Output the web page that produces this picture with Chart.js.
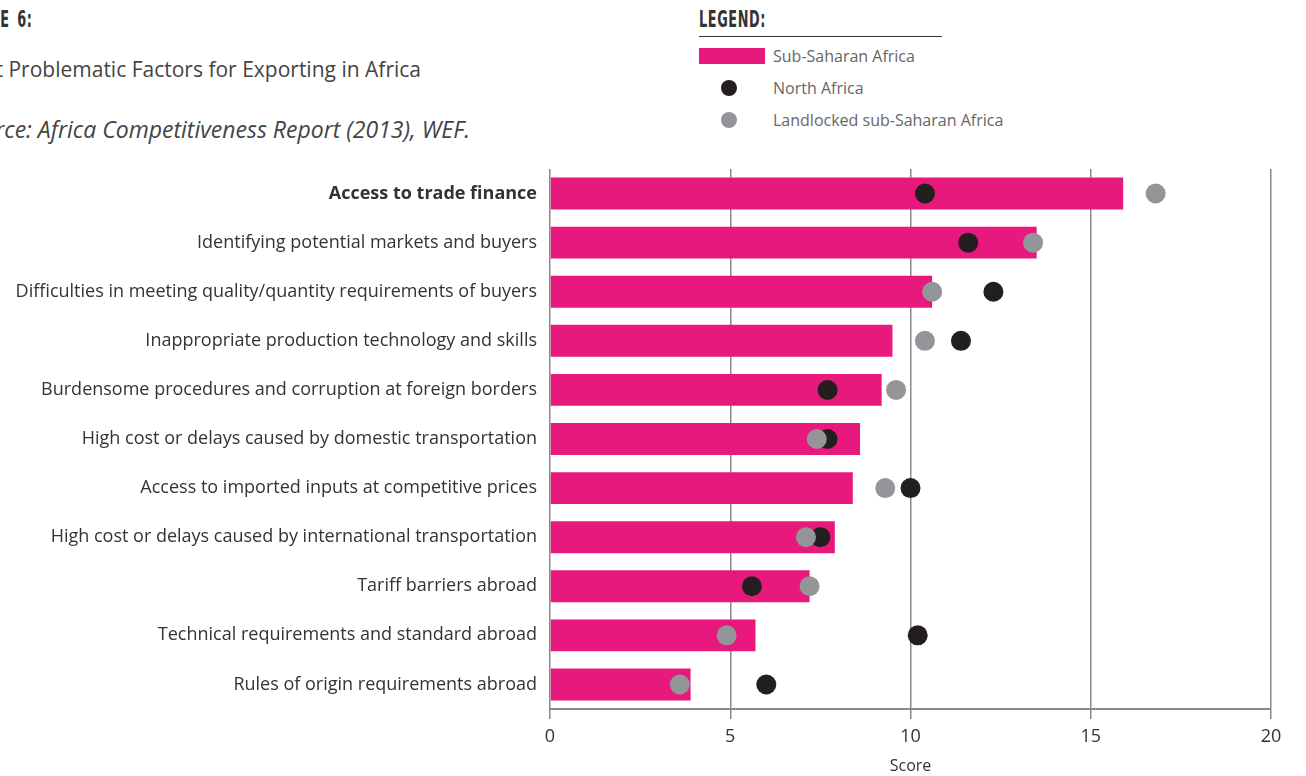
<!DOCTYPE html>
<html>
<head>
<meta charset="utf-8">
<script src="https://cdn.jsdelivr.net/npm/chart.js@4.4.1/dist/chart.umd.min.js"></script>
<style>
  html, body { margin: 0; padding: 0; background: #fff; }
  body { width: 1306px; height: 776px; position: relative; overflow: hidden; font-family: "Open Sans", sans-serif; color: #444; }
  .cut { position: absolute; white-space: nowrap; text-align: right; }
  .head { font-family: "DejaVu Sans Condensed", "Liberation Sans Narrow", sans-serif; font-weight: bold; font-size: 23px; letter-spacing: 1px; color: #333; line-height: 1; }
  #fig { right: 1273px; top: 8px; word-spacing: 4px; transform: scaleX(0.62); transform-origin: right center; }
  #title { right: 885px; top: 55px; font-size: 21px; color: #444; }
  #source { right: 836px; top: 113px; font-size: 23px; font-style: italic; color: #444; }
  #legend-head { position: absolute; left: 699px; top: 8px; }
  #legend-head span { display: inline-block; transform: scaleX(0.62); transform-origin: left center; }
  #legend-rule { position: absolute; left: 699px; top: 36px; width: 243px; height: 0; border-top: 1.5px solid #333; }
  .li { position: absolute; left: 773px; font-size: 16px; color: #666; }
  .sw { position: absolute; }
  canvas { position: absolute; left: 0; top: 0; }
</style>
</head>
<body>
<div class="cut head" id="fig">FIGURE 6:</div>
<div class="cut" id="title">Most Problematic Factors for Exporting in Africa</div>
<div class="cut" id="source">Source: Africa Competitiveness Report (2013), WEF.</div>

<div class="head" id="legend-head"><span>LEGEND:</span></div>
<div id="legend-rule"></div>
<div class="sw" style="left:699px;top:48px;width:66px;height:16px;background:#e8197c"></div>
<div class="li" style="top:45px">Sub-Saharan Africa</div>
<div class="sw" style="left:721px;top:80px;width:16px;height:16px;border-radius:50%;background:#231f20"></div>
<div class="li" style="top:77px">North Africa</div>
<div class="sw" style="left:721px;top:112px;width:16px;height:16px;border-radius:50%;background:#939598"></div>
<div class="li" style="top:109px">Landlocked sub-Saharan Africa</div>

<canvas id="chart" width="1306" height="776"></canvas>

<script>
var factors = [
    "Access to trade finance",
    "Identifying potential markets and buyers",
    "Difficulties in meeting quality/quantity requirements of buyers",
    "Inappropriate production technology and skills",
    "Burdensome procedures and corruption at foreign borders",
    "High cost or delays caused by domestic transportation",
    "Access to imported inputs at competitive prices",
    "High cost or delays caused by international transportation",
    "Tariff barriers abroad",
    "Technical requirements and standard abroad",
    "Rules of origin requirements abroad"
];
var subSaharan = [15.9, 13.5, 10.6, 9.5, 9.2, 8.6, 8.4, 7.9, 7.2, 5.7, 3.9];
var northAfrica = [10.4, 11.6, 12.3, 11.4, 7.7, 7.7, 10.0, 7.5, 5.6, 10.2, 6.0];
var landlocked = [16.8, 13.4, 10.6, 10.4, 9.6, 7.4, 9.3, 7.1, 7.2, 4.9, 3.6];
var scoreTicks = [0, 5, 10, 15, 20];

var ctx = document.getElementById("chart").getContext("2d");
var chart = new Chart(ctx, {
    data: {
        labels: factors,
        datasets: [{
            type: 'line',
            label: "Landlocked sub-Saharan Africa",
            data: landlocked,
            showLine: false,
            pointRadius: 10,
            pointHoverRadius: 10,
            pointBorderWidth: 0,
            pointBackgroundColor: '#939598',
            order: 0
        }, {
            type: 'line',
            label: "North Africa",
            data: northAfrica,
            showLine: false,
            pointRadius: 10,
            pointHoverRadius: 10,
            pointBorderWidth: 0,
            pointBackgroundColor: '#231f20',
            order: 1
        }, {
            type: 'bar',
            label: "Sub-Saharan Africa",
            data: subSaharan,
            backgroundColor: '#e8197c',
            categoryPercentage: 1,
            barPercentage: 0.65,
            order: 2
        }]
    },
    options: {
        indexAxis: 'y',
        responsive: false,
        animation: false,
        layout: { padding: { top: 169, right: 35, left: 0, bottom: 0 } },
        plugins: { legend: { display: false }, tooltip: { enabled: false } },
        scales: {
            x: {
                min: 0,
                max: 20,
                afterBuildTicks: function (scale) {
                    scale.ticks = scoreTicks.map(function (v) { return { value: v }; });
                },
                afterFit: function (scale) { scale.height = 67; },
                grid: { color: '#8a8a8a', lineWidth: 1.5, tickLength: 10 },
                border: { color: '#8a8a8a', width: 2 },
                ticks: { color: '#333', padding: 7, font: { family: 'Open Sans', size: 18 } },
                title: {
                    display: true,
                    text: 'Score',
                    color: '#333',
                    padding: { top: 0, bottom: 0 },
                    font: { family: 'Open Sans', size: 16 }
                }
            },
            y: {
                afterFit: function (scale) { scale.width = 550; },
                grid: { display: false, drawTicks: false },
                border: { display: false },
                ticks: {
                    color: '#333',
                    padding: 13,
                    font: function (c) {
                        return { family: 'Open Sans', size: 18, weight: c.index === 0 ? 'bold' : 'normal' };
                    }
                }
            }
        }
    }
});
</script>
</body>
</html>
